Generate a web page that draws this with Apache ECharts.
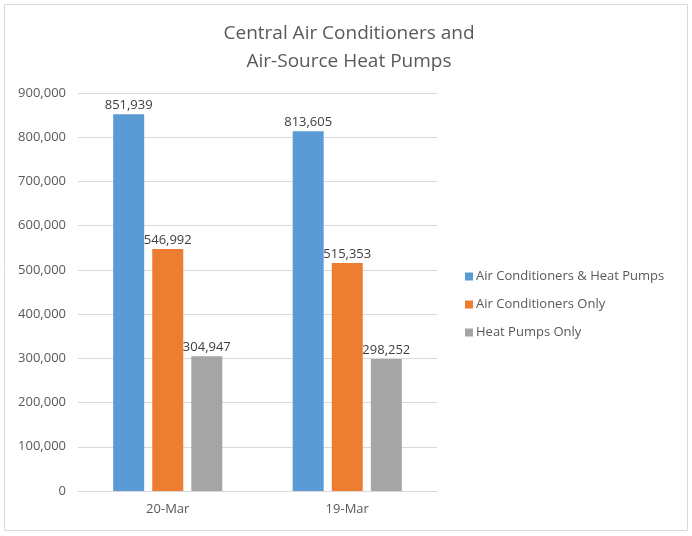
<!DOCTYPE html>
<html>
<head>
<meta charset="utf-8">
<script src="https://cdn.jsdelivr.net/npm/echarts@6/dist/echarts.min.js"></script>
<style>
  html, body { margin: 0; padding: 0; background: #fff; }
  #chart { width: 692px; height: 536px; }
</style>
</head>
<body>
<div id="chart"></div>
<script>
// data
var categories = ['20-Mar', '19-Mar'];
var acAndHp = [851939, 813605];
var acOnly = [546992, 515353];
var hpOnly = [304947, 298252];
var seriesNames = ['Air Conditioners & Heat Pumps', 'Air Conditioners Only', 'Heat Pumps Only'];
var colors = ['#5B9BD5', '#ED7D31', '#A5A5A5'];

var fontFamily = '"Open Sans", "Noto Sans", sans-serif';
var chart = echarts.init(document.getElementById('chart'));

function fmt(v) {
    return v.toLocaleString('en-US');
}

function makeSeries(name, data, color) {
    return {
        name: name,
        type: 'bar',
        data: data,
        barWidth: 31,
        barGap: '26%',
        itemStyle: { color: color },
        label: {
            show: true,
            position: 'top',
            distance: 2,
            color: '#404040',
            fontSize: 13,
            fontFamily: fontFamily,
            formatter: function (p) { return fmt(p.value); }
        }
    };
}

var option = {
    animation: false,
    backgroundColor: '#fff',
    color: colors,
    graphic: [{
        type: 'rect',
        shape: { x: 4.5, y: 4.5, width: 683, height: 526 },
        style: { fill: 'none', stroke: '#d9d9d9', lineWidth: 1 },
        silent: true
    }],
    title: {
        text: 'Central Air Conditioners and\nAir-Source Heat Pumps',
        left: 344,
        top: 15,
        textAlign: 'center',
        textStyle: {
            color: '#595959',
            fontSize: 19,
            fontWeight: 'normal',
            fontFamily: fontFamily,
            lineHeight: 28
        }
    },
    legend: {
        orient: 'vertical',
        left: 460,
        top: 265,
        itemWidth: 8,
        itemHeight: 8,
        itemGap: 15,
        icon: 'rect',
        data: seriesNames,
        textStyle: { color: '#595959', fontSize: 13, fontFamily: fontFamily, padding: [0, 0, 0, -2] }
    },
    grid: { left: 78, right: 255, top: 93, bottom: 45, containLabel: false },
    xAxis: {
        type: 'category',
        data: categories,
        axisLine: { lineStyle: { color: '#d9d9d9' } },
        axisTick: { show: false },
        axisLabel: { color: '#595959', fontSize: 13, fontFamily: fontFamily, margin: 12 }
    },
    yAxis: {
        type: 'value',
        min: 0,
        max: 900000,
        interval: 100000,
        axisLine: { show: false },
        axisTick: { show: false },
        splitLine: { lineStyle: { color: '#d9d9d9' } },
        axisLabel: {
            color: '#595959', fontSize: 13, fontFamily: fontFamily, margin: 12,
            formatter: function (v) { return fmt(v); }
        }
    },
    series: [
        makeSeries(seriesNames[0], acAndHp, colors[0]),
        makeSeries(seriesNames[1], acOnly, colors[1]),
        makeSeries(seriesNames[2], hpOnly, colors[2])
    ]
};

chart.setOption(option);
</script>
</body>
</html>
